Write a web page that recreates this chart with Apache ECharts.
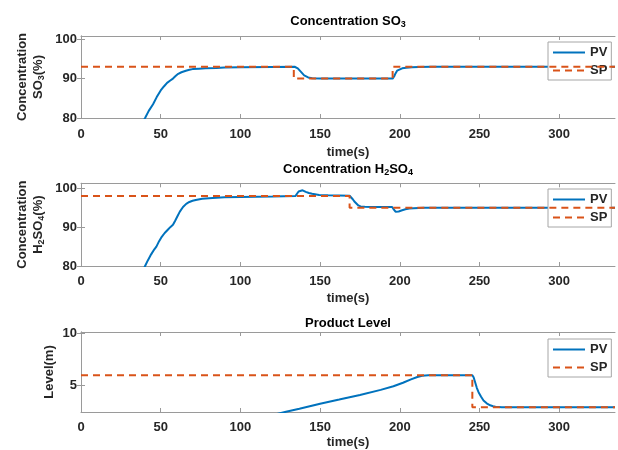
<!DOCTYPE html>
<html>
<head>
<meta charset="utf-8">
<script src="https://cdn.jsdelivr.net/npm/echarts@6/dist/echarts.min.js"></script>
<style>
html,body{margin:0;padding:0;background:#fff;}
#c{width:618px;height:450px;}
</style>
</head>
<body>
<div id="c"></div>
<script>
// ---- data (time s, value) ----
const so3PV = [[36,77],[40.2,80],[42.5,81.8],[45.2,83.5],[47.5,85.3],[50,87.0],[52,88.0],[54,88.9],[56,89.5],[57.7,90.0],[59.5,90.7],[61,91.2],[63,91.6],[65.8,92.0],[68,92.25],[70,92.4],[74,92.5],[78,92.6],[85,92.7],[90,92.8],[100,92.85],[120,92.95],[134,93],[135,92.9],[136,92.6],[137,92.2],[138,91.7],[139,91.2],[140,90.8],[141,90.5],[142.5,90.3],[145,90.1],[150,90.0],[195.5,90.0],[196.5,90.6],[197.3,91.3],[198.3,92.0],[199.5,92.3],[201.5,92.6],[204,92.75],[207.7,92.85],[212,92.93],[220,93],[335,93]];
const so3SP = [[0,93],[133.5,93],[133.5,90],[195.5,90],[195.5,93],[335,93]];

const h2so4PV = [[36,76.5],[40.2,80],[42,81.5],[44,83],[46,84.3],[47.3,85],[49,86.4],[50.3,87.3],[52.5,88.5],[54.6,89.4],[56,90],[57.7,90.6],[59,91.6],[60.5,92.8],[62,94],[64,95.2],[66,96.0],[68,96.5],[70,96.8],[72,97.0],[76,97.3],[82.5,97.5],[90,97.7],[100,97.8],[120,97.9],[134.5,98.0],[135.5,98.6],[136.5,99.2],[137.5,99.45],[139,99.5],[140,99.35],[141,99.1],[143,98.8],[145,98.6],[149.4,98.3],[155,98.2],[168.5,98.1],[169.5,97.8],[170.5,97.2],[171.5,96.6],[172.7,96.1],[174,95.6],[175.4,95.35],[178,95.25],[182.7,95.2],[195.2,95.2],[196.2,94.6],[197.3,94.0],[198.3,93.9],[199.3,94.05],[201,94.3],[203.5,94.6],[206,94.8],[208.7,94.9],[215,95.0],[335,95.0]];
const h2so4SP = [[0,98],[168.5,98],[168.5,95],[335,95]];

const levelPV = [[120,2.2],[128.6,2.52],[137,2.8],[150,3.28],[162,3.68],[175,4.12],[188,4.6],[196,4.95],[202,5.28],[207,5.6],[211,5.83],[214,5.95],[218,6.0],[245.5,6.0],[246.3,5.8],[247.3,5.3],[248.3,4.8],[249.4,4.38],[251,3.95],[252.5,3.6],[254.5,3.33],[256.7,3.14],[258.5,3.05],[260,3.0],[264,2.96],[335,2.95]];
const levelSP = [[0,6],[245.5,6],[245.5,2.95],[335,2.95]];

const xTicks = [0,50,100,150,200,250,300];
const yTicksConc = [80,90,100];
const yTicksLevel = [5,10];
const titles = ['Concentration SO{sub|3}','Concentration H{sub|2}SO{sub|4}','Product Level'];
const yNames = ['Concentration\nSO{sub|3}(%)','Concentration\nH{sub|2}SO{sub|4}(%)','Level(m)'];
const xName = 'time(s)';
const legendNames = ['PV','SP'];

// ---- layout / style ----
const FONT = 'Liberation Sans, Arial, sans-serif';
const PVC = '#0072BD', SPC = '#D95319';
const AX = '#9a9a9a', TXT = '#262626';
const gridBoxes = [
  {left:81, top:36, width:534, height:82},
  {left:81, top:183.3, width:534, height:82.7},
  {left:81, top:332, width:534, height:81.5}
];
const yRanges = [[80,100.8,yTicksConc],[80,101.3,yTicksConc],[2.5,10.1,yTicksLevel]];
const titleTops = [13,161,317];
const legendTops = [42,189,339];
const yNameGaps = [35,35,24];
const xNameGaps = [28,26,24];
const subRich = {sub:{fontSize:9,fontWeight:'bold',fontFamily:FONT,color:TXT,padding:[7,0,0,0]}};

const xAxes = [], yAxes = [], series = [], title = [], legend = [];
const pvData = [so3PV, h2so4PV, levelPV];
const spData = [so3SP, h2so4SP, levelSP];
for (let i=0;i<3;i++){
  const g = gridBoxes[i];
  title.push({text:titles[i], left:g.left+g.width/2, top:titleTops[i], textAlign:'center', padding:0,
    textStyle:{fontSize:13,fontWeight:'bold',fontFamily:FONT,color:'#000',rich:{sub:{fontSize:9,fontWeight:'bold',fontFamily:FONT,color:'#000',padding:[7,0,0,0]}}}});
  xAxes.push({type:'value', gridIndex:i, min:0, max:335, position:'bottom',
    name:xName, nameLocation:'middle', nameGap:xNameGaps[i], nameMoveOverlap:false,
    nameTextStyle:{fontSize:13,fontWeight:'bold',fontFamily:FONT,color:TXT},
    axisLine:{show:true,lineStyle:{color:AX,width:1}},
    axisTick:{show:true,inside:true,length:4,customValues:xTicks,lineStyle:{color:AX}},
    axisLabel:{show:true,customValues:xTicks,margin:i===0?10:9,fontSize:13,fontWeight:'bold',fontFamily:FONT,color:TXT},
    splitLine:{show:false}});
  yAxes.push({type:'value', gridIndex:i, min:yRanges[i][0], max:yRanges[i][1], position:'left',
    name:yNames[i], nameLocation:'middle', nameGap:yNameGaps[i], nameRotate:90, nameMoveOverlap:false,
    nameTextStyle:{fontSize:13,fontWeight:'bold',fontFamily:FONT,color:TXT,lineHeight:16,rich:subRich},
    axisLine:{show:true,lineStyle:{color:AX,width:1}},
    axisTick:{show:true,inside:true,length:4,customValues:yRanges[i][2],lineStyle:{color:AX}},
    axisLabel:{show:true,customValues:yRanges[i][2],margin:4,fontSize:13,fontWeight:'bold',fontFamily:FONT,color:TXT},
    splitLine:{show:false}});
  series.push({name:'PV', type:'line', xAxisIndex:i, yAxisIndex:i, data:pvData[i], symbol:'none', showSymbol:false,
    clip:true, z:3, lineStyle:{color:PVC,width:2}, itemStyle:{color:PVC}});
  series.push({name:'SP', type:'line', xAxisIndex:i, yAxisIndex:i, data:spData[i], symbol:'none', showSymbol:false,
    clip:true, z:4, lineStyle:{color:SPC,width:2,type:[7,5]}, itemStyle:{color:SPC}});
  legend.push({data:legendNames, orient:'vertical', left:548, top:legendTops[i], padding:[4,4,3,4],
    itemWidth:32, itemHeight:14, itemGap:5, selectedMode:false,
    backgroundColor:'#fff', borderColor:'#a6a6a6', borderWidth:1,
    itemStyle:{opacity:0},
    textStyle:{fontSize:13,fontWeight:'bold',fontFamily:FONT,color:TXT}});
}
// mirrored box axes (top / right)
for (let i=0;i<3;i++){
  xAxes.push({type:'value', gridIndex:i, min:0, max:335, position:'top',
    axisLine:{show:true,lineStyle:{color:AX,width:1}},
    axisTick:{show:true,inside:true,length:4,customValues:xTicks,lineStyle:{color:AX}},
    axisLabel:{show:false}, splitLine:{show:false}});
  yAxes.push({type:'value', gridIndex:i, min:yRanges[i][0], max:yRanges[i][1], position:'right',
    axisLine:{show:true,lineStyle:{color:AX,width:1}},
    axisTick:{show:true,inside:true,length:4,customValues:yRanges[i][2],lineStyle:{color:AX}},
    axisLabel:{show:false}, splitLine:{show:false}});
}

const chart = echarts.init(document.getElementById('c'), null, {renderer:'canvas'});
chart.setOption({
  animation:false,
  backgroundColor:'#fff',
  title:title,
  legend:legend,
  grid:gridBoxes.map(g=>Object.assign({containLabel:false},g)),
  xAxis:xAxes,
  yAxis:yAxes,
  series:series
});
</script>
</body>
</html>
